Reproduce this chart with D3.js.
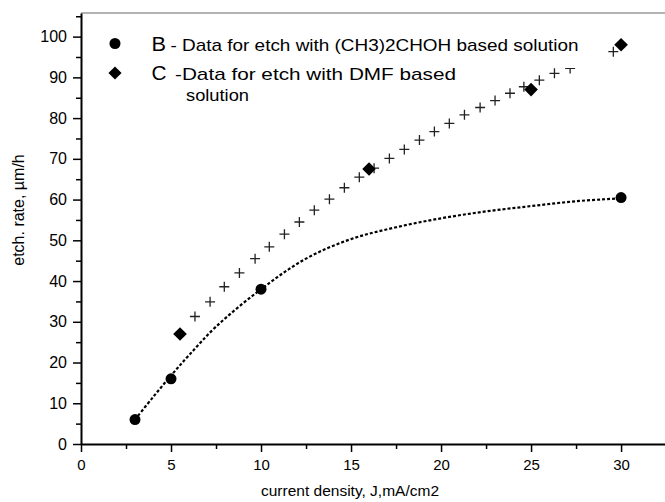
<!DOCTYPE html>
<html>
<head>
<meta charset="utf-8">
<script src="https://cdn.jsdelivr.net/npm/d3@7"></script>
<style>
  body { margin: 0; background: #fff; }
  svg { display: block; font-family: "Liberation Sans", Arial, sans-serif; }
</style>
</head>
<body>
<div id="chart"></div>
<script>
// Measured data, B series (circles)
var bX = [3, 5, 10, 30];
var bY = [6, 16, 38, 60.5];

// Measured data, C series (diamonds)
var cX = [5.5, 16, 25, 30];
var cY = [27, 67.5, 87, 98];

// dotted fit line through B
var bFitX = [3, 4, 5, 6, 7.5, 10, 12.5, 15, 17.5, 20, 22.5, 25, 27.5, 30];
var bFitY = [6, 11.5, 16.8, 21.8, 28.8, 38, 45.5, 50.3, 53.2, 55.4, 57.1, 58.4, 59.6, 60.3];

// "+" fit points for C
var cFitX = [6.33, 7.17, 7.96, 8.8, 9.67, 10.46, 11.3, 12.13, 12.96, 13.8, 14.63, 15.46, 16.28, 17.13,
  17.96, 18.8, 19.63, 20.46, 21.3, 22.17, 23.0, 23.83, 24.6, 25.46, 26.3, 27.17, 29.57];
var cFitY = [31.3, 34.9, 38.6, 42.0, 45.5, 48.4, 51.5, 54.5, 57.4, 60.1, 62.9, 65.5, 67.7, 70.1,
  72.3, 74.6, 76.7, 78.7, 80.8, 82.6, 84.3, 86.1, 87.7, 89.3, 91.0, 92.2, 96.3];

// ticks
var xMajor = [0, 5, 10, 15, 20, 25, 30];
var xMinor = [2.5, 7.5, 12.5, 17.5, 22.5, 27.5];
var yMajor = [0, 10, 20, 30, 40, 50, 60, 70, 80, 90, 100];
var yMinor = [5, 15, 25, 35, 45, 55, 65, 75, 85, 95, 105];

var svgWidth = 665;
var svgHeight = 502;

var svg = d3.select("#chart")
  .append("svg")
  .attr("width", svgWidth)
  .attr("height", svgHeight);

var x = d3.scaleLinear().domain([0, 32.44]).range([81, 665]);
var y = d3.scaleLinear().domain([0, 105.8]).range([444, 13]);

// top frame line
svg.append("line")
  .attr("x1", 81).attr("x2", 665)
  .attr("y1", 13).attr("y2", 13)
  .attr("stroke", "#999")
  .attr("stroke-width", 1.5);

// minor ticks
svg.append("g")
  .attr("transform", "translate(0,444)")
  .call(d3.axisBottom(x).tickValues(xMinor).tickSize(5).tickFormat(""))
  .call(g => g.select(".domain").remove());

svg.append("g")
  .attr("transform", "translate(81,0)")
  .call(d3.axisLeft(y).tickValues(yMinor).tickSize(5).tickFormat(""))
  .call(g => g.select(".domain").remove());

// major axes
var xAxis = svg.append("g")
  .attr("transform", "translate(0,444)")
  .call(d3.axisBottom(x).tickValues(xMajor).tickSize(8).tickSizeOuter(0).tickPadding(7));

var yAxis = svg.append("g")
  .attr("transform", "translate(81,0)")
  .call(d3.axisLeft(y).tickValues(yMajor).tickSize(8).tickSizeOuter(0).tickPadding(6));

svg.selectAll(".tick line").attr("stroke", "#000").attr("stroke-width", 1.5);
svg.selectAll(".domain").attr("stroke", "#000").attr("stroke-width", 2);
svg.selectAll(".tick text")
  .attr("font-family", "Liberation Sans, Arial, sans-serif")
  .attr("font-size", 15)
  .attr("fill", "#000");
yAxis.selectAll(".tick text").attr("font-size", 16);

// axis titles
svg.append("text")
  .attr("x", 350)
  .attr("y", 496)
  .attr("text-anchor", "middle")
  .attr("font-size", 15.5)
  .text("current density, J,mA/cm2");

svg.append("text")
  .attr("transform", "translate(24,210) rotate(-90)")
  .attr("text-anchor", "middle")
  .attr("font-size", 16)
  .text("etch. rate, µm/h");

// dotted fit for B
var bLine = d3.line()
  .x(d => x(d[0]))
  .y(d => y(d[1]))
  .curve(d3.curveCatmullRom);

svg.append("path")
  .datum(d3.zip(bFitX, bFitY))
  .attr("d", bLine)
  .attr("fill", "none")
  .attr("stroke", "#000")
  .attr("stroke-width", 2.2)
  .attr("stroke-dasharray", "3,2");

// "+" markers for C fit
svg.append("g").selectAll("path")
  .data(d3.zip(cFitX, cFitY))
  .enter()
  .append("path")
  .attr("d", d => {
    var px = x(d[0]), py = y(d[1]);
    return `M${px - 5},${py}H${px + 5}M${px},${py - 5}V${py + 5}`;
  })
  .attr("stroke", "#222")
  .attr("stroke-width", 1.3);

// legend background hides part of the "+" row
svg.append("rect")
  .attr("x", 95).attr("y", 15)
  .attr("width", 510).attr("height", 53)
  .attr("fill", "#fff");

// B circles
svg.append("g").selectAll("circle")
  .data(d3.zip(bX, bY))
  .enter()
  .append("circle")
  .attr("cx", d => x(d[0]))
  .attr("cy", d => y(d[1]))
  .attr("r", 5.5)
  .attr("fill", "#000");

// C diamonds
var diamond = d3.symbol().type(d3.symbolDiamond2).size(118);
svg.append("g").selectAll("path")
  .data(d3.zip(cX, cY))
  .enter()
  .append("path")
  .attr("d", diamond)
  .attr("transform", d => `translate(${x(d[0])},${y(d[1])})`)
  .attr("fill", "#000");

// legend
svg.append("circle")
  .attr("cx", 115).attr("cy", 43.5).attr("r", 5.5).attr("fill", "#000");
svg.append("path")
  .attr("d", d3.symbol().type(d3.symbolDiamond2).size(110))
  .attr("transform", "translate(115,73)")
  .attr("fill", "#000");

function legendText(tx, ty, size, len, str) {
  svg.append("text")
    .attr("x", tx).attr("y", ty)
    .attr("font-size", size)
    .attr("textLength", len)
    .attr("lengthAdjust", "spacingAndGlyphs")
    .text(str);
}

legendText(151.5, 50.5, 20, 14.5, "B");
legendText(170.5, 50.5, 17, 408, "- Data for etch with (CH3)2CHOH based solution");
legendText(151.5, 80, 20, 15, "C");
legendText(175, 80, 17, 281, "-Data for etch with DMF based");
legendText(186, 101, 17, 63, "solution");
</script>
</body>
</html>
